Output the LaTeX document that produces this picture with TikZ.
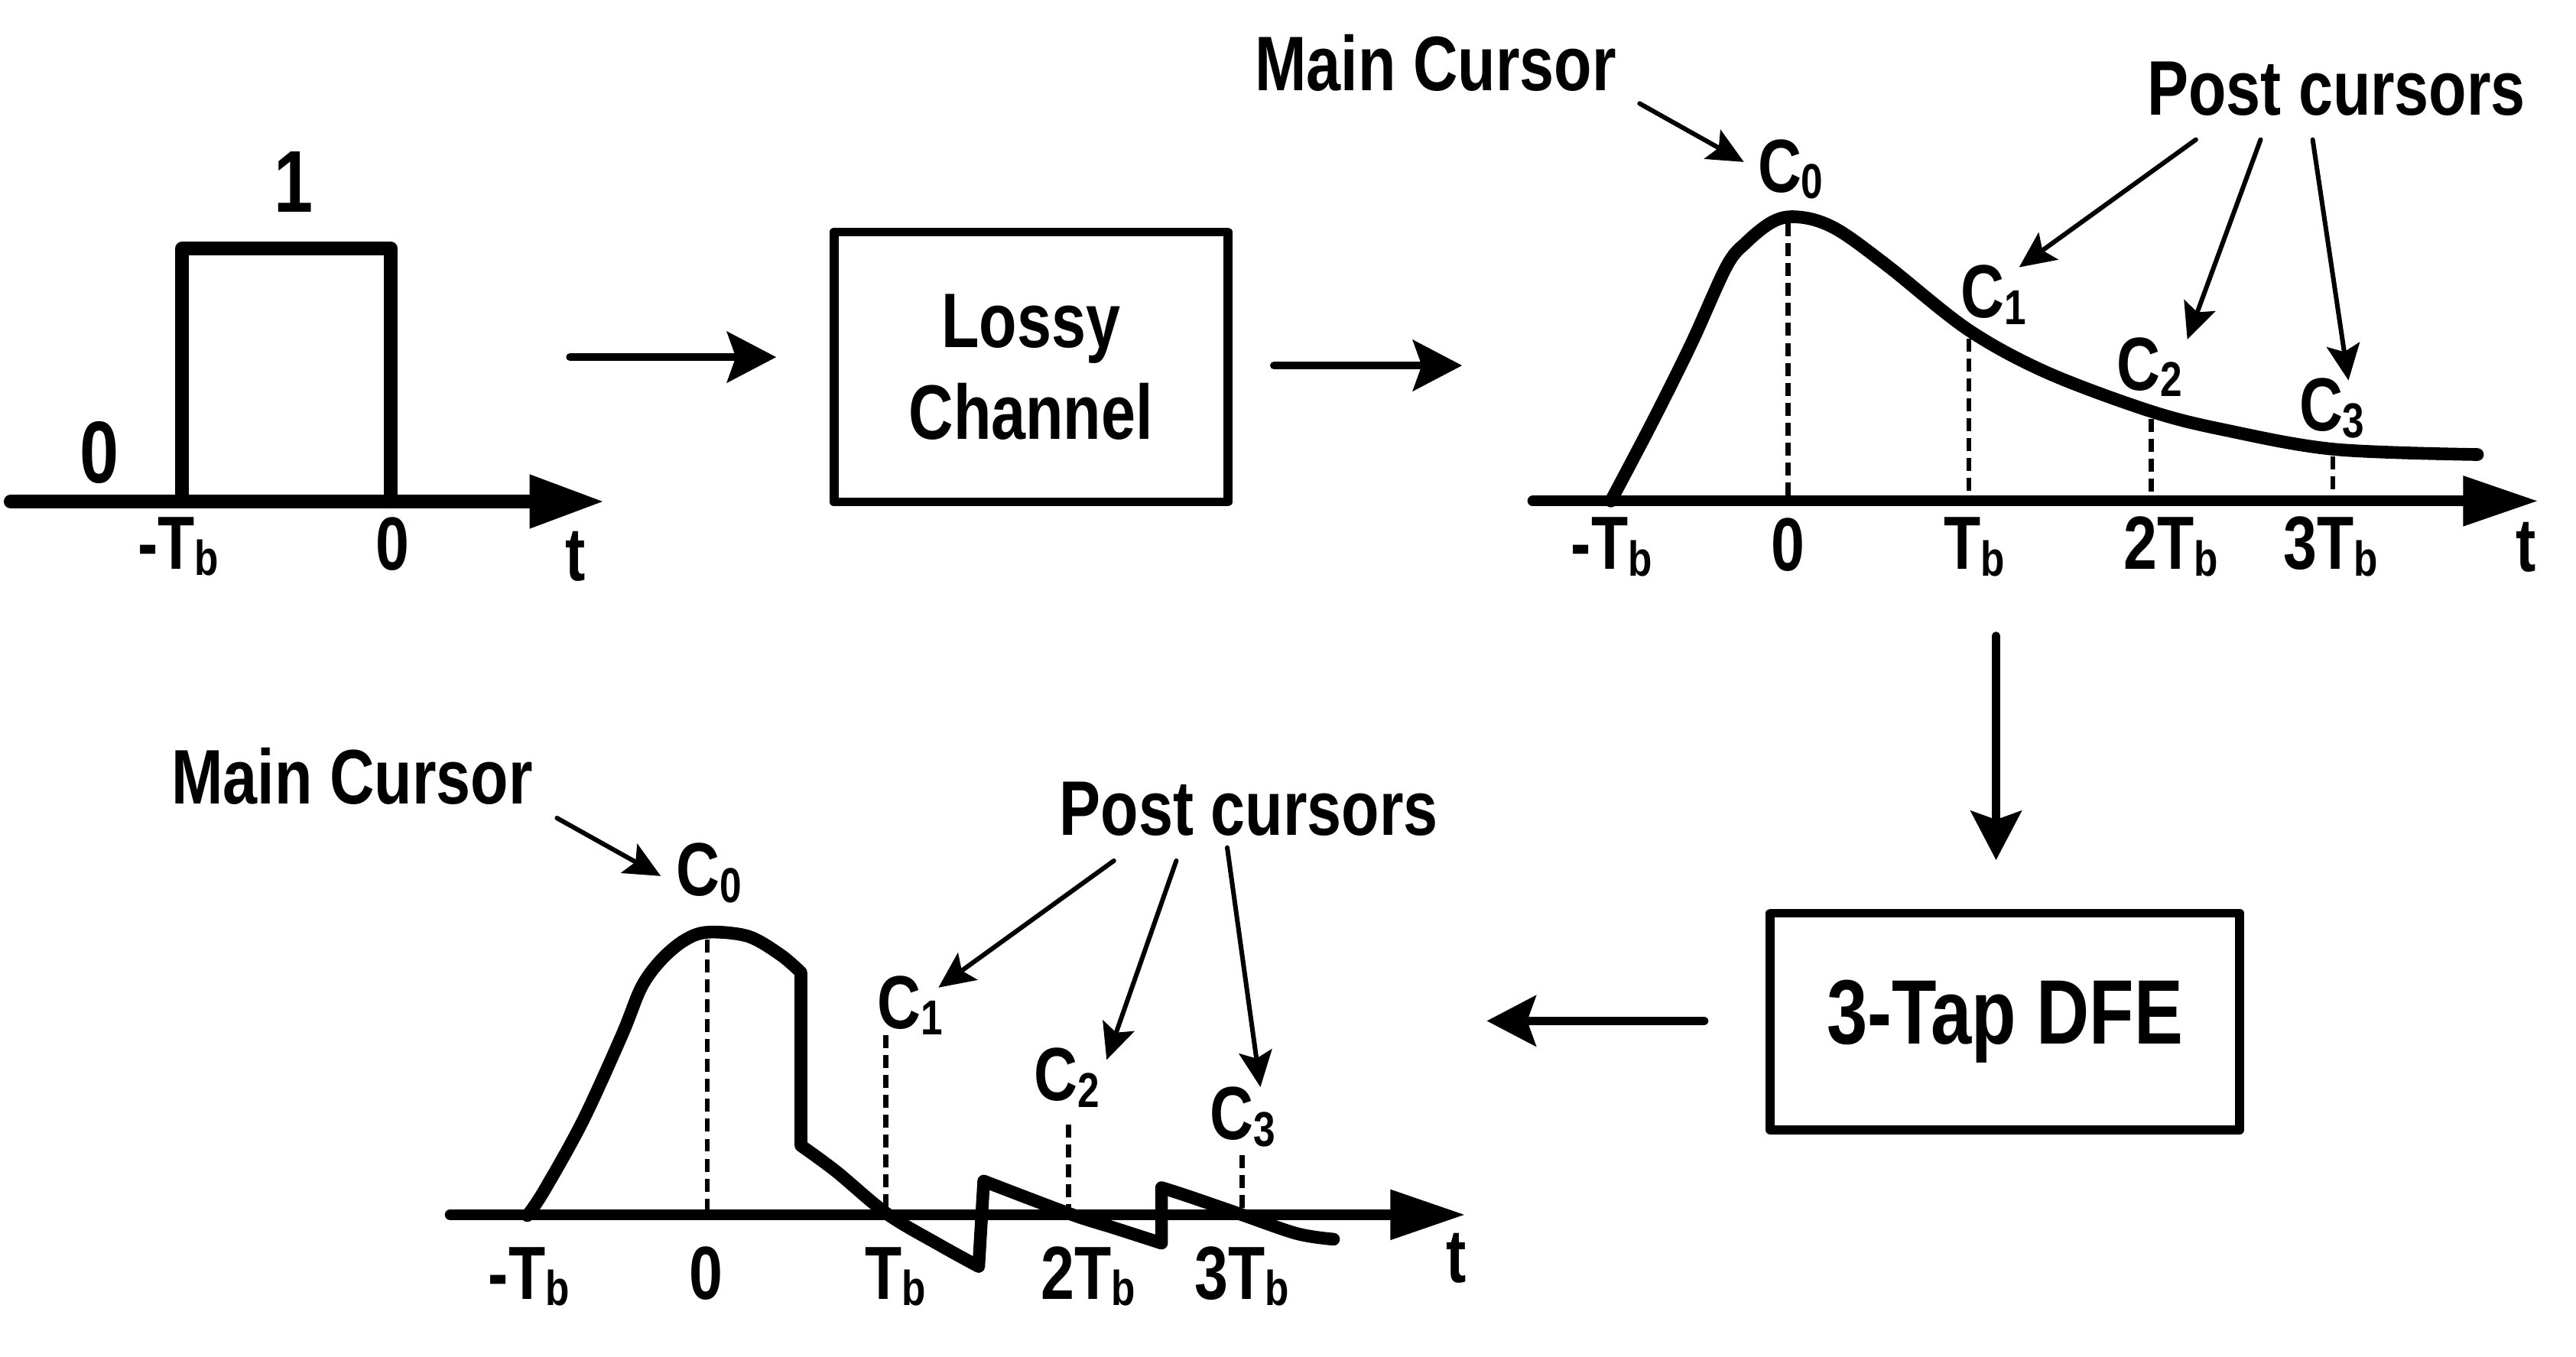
\documentclass[tikz,border=0pt]{standalone}
\usepackage{fontspec}
\setmainfont{Liberation Sans}[FakeStretch=0.8]
\usetikzlibrary{arrows.meta}
\newcommand\fsBig{\fontsize{26.8pt}{31.8pt}\selectfont\bfseries}
\newcommand\fsAx{\fontsize{26.1pt}{30pt}\selectfont\bfseries}
\newcommand\fsVal{\fontsize{30.4pt}{34pt}\selectfont\bfseries}
\newcommand\fsDfe{\fontsize{31.7pt}{36pt}\selectfont\bfseries}
\newcommand\lsub[1]{\raisebox{-2.2pt}{\fontsize{17pt}{17pt}\selectfont\bfseries #1}}
\begin{document}
\begin{tikzpicture}[x=0.02cm,y=-0.02cm,
  every node/.style={inner sep=0pt,outer sep=0pt},
  pulseln/.style={line width=4.8pt,line cap=round,line join=round},
  pulseaxis/.style={line width=4.8pt,line cap=round,-{Triangle[length=26pt,width=17.4pt]}},
  axisln/.style={line width=3.7pt,line cap=round,-{Triangle[length=26pt,width=16.5pt]}},
  curveln/.style={line width=4.4pt,line cap=round,line join=round},
  dashln/.style={line width=1.8pt,dash pattern=on 4.5pt off 2.4pt},
  flow/.style={line width=2.8pt,line cap=round,-{Stealth[length=17pt,width=17.5pt,inset=3pt]}},
  note/.style={line width=1.6pt,line cap=round,-{Stealth[length=12.5pt,width=11.5pt,inset=2.5pt]}},
  blockbox/.style={draw,line width=3.1pt,line join=round,align=center},
  axlab/.style={font=\fsAx,anchor=base},
  clab/.style={font=\fsAx,anchor=base west},
  biglab/.style={font=\fsBig,anchor=base west},
  vallab/.style={font=\fsVal,anchor=base}]
\fill[white] (0,0) rectangle (1568,826);
\useasboundingbox (0,0) rectangle (1568,826);

% ---------- input pulse ----------
\coordinate (pa0) at (6.5,305.3);
\coordinate (pa1) at (368,305.3);
\draw[pulseaxis] (pa0) -- (pa1);
\coordinate (pl) at (110.9,305.3);
\coordinate (plt) at (110.9,151.4);
\coordinate (prt) at (238,151.4);
\coordinate (pr) at (238,305.3);
\draw[pulseln] (pl) -- (plt) -- (prt) -- (pr);
\node[vallab] (v1) at (178.5,129) {1};
\node[vallab] (v0) at (60.5,294) {0};
\node[axlab] (pmtb) at (108.6,346.5) {-T\lsub{b}};
\node[axlab] (pzero) at (239,347) {0};
\node[axlab] (pt) at (350.5,353.7) {t};

% ---------- blocks ----------
\node[blockbox,font=\fsBig,minimum width=4.796cm,minimum height=3.288cm] (chan) at (627.5,223.4) {Lossy\\Channel};
\node[blockbox,font=\fsDfe,minimum width=5.714cm,minimum height=2.64cm] (dfe) at (1220.4,621.9) {3-Tap DFE};

% ---------- flow arrows ----------
\coordinate (f1a) at (347,217.4);
\coordinate (f1b) at (472.5,217.4);
\coordinate (f2a) at (775.5,222.5);
\coordinate (f2b) at (890,222.5);
\coordinate (f3a) at (1215,387);
\coordinate (f3b) at (1215,523.6);
\coordinate (f4a) at (1037.5,621.5);
\coordinate (f4b) at (905,621.5);
\draw[flow] (f1a) -- (f1b);
\draw[flow] (f2a) -- (f2b);
\draw[flow] (f3a) -- (f3b);
\draw[flow] (f4a) -- (f4b);

% ---------- channel output ----------
\coordinate (ra0) at (933,305);
\coordinate (ra1) at (1545,305);
\draw[axisln] (ra0) -- (ra1);
\draw[curveln] plot[smooth,tension=0.55] coordinates {
 (980.5,305) (1006,256.5) (1029.6,209) (1051,162) (1063,147.5) (1077.2,136)
 (1089,132) (1105,134) (1122,142) (1150.4,163) (1198.4,201) (1246.4,227)
 (1309.6,250.5) (1355.4,262) (1420.8,273.5) (1508,276.7)};
\coordinate (rd0t) at (1088.4,136);  \coordinate (rd0b) at (1088.4,305);
\coordinate (rd1t) at (1198.4,206);  \coordinate (rd1b) at (1198.4,305);
\coordinate (rd2t) at (1309.6,255);  \coordinate (rd2b) at (1309.6,305);
\coordinate (rd3t) at (1420,278);    \coordinate (rd3b) at (1420,305);
\draw[dashln] (rd0t) -- (rd0b);
\draw[dashln] (rd1t) -- (rd1b);
\draw[dashln] (rd2t) -- (rd2b);
\draw[dashln] (rd3t) -- (rd3b);
\node[axlab] (rmtb) at (981,346.7) {-T\lsub{b}};
\node[axlab] (rz) at (1088.4,347.5) {0};
\node[axlab] (rtb) at (1201.7,346.7) {T\lsub{b}};
\node[axlab] (r2tb) at (1321.5,346.7) {2T\lsub{b}};
\node[axlab] (r3tb) at (1418.7,346.7) {3T\lsub{b}};
\node[axlab] (rt) at (1537.5,348) {t};
\node[clab] (rc0) at (1070,117) {C\lsub{0}};
\node[clab] (rc1) at (1193.5,193.6) {C\lsub{1}};
\node[clab] (rc2) at (1288.5,237.5) {C\lsub{2}};
\node[clab] (rc3) at (1399.5,262.4) {C\lsub{3}};
\node[biglab] (rmain) at (764,55.1) {Main Cursor};
\node[biglab] (rpost) at (1307,70) {Post cursors};
\coordinate (rm0) at (998,63);    \coordinate (rm1) at (1061.5,98.6);
\coordinate (rp1a) at (1336.6,85); \coordinate (rp1b) at (1229,162.7);
\coordinate (rp2a) at (1376,85);   \coordinate (rp2b) at (1331.4,206.6);
\coordinate (rp3a) at (1407.7,85); \coordinate (rp3b) at (1429.5,231.6);
\draw[note] (rm0) -- (rm1);
\draw[note] (rp1a) -- (rp1b);
\draw[note] (rp2a) -- (rp2b);
\draw[note] (rp3a) -- (rp3b);

% ---------- DFE output ----------
\coordinate (ba0) at (274,739.5);
\coordinate (ba1) at (892,739.5);
\draw[axisln] (ba0) -- (ba1);
\draw[curveln] plot[smooth,tension=0.55] coordinates {
 (321,740) (331,725.2) (354.7,682.5) (378.5,630.3) (390.4,601) (402.3,584.5)
 (416.5,572.5) (430.8,567.5) (455.4,570) (475.4,581.5) (487.5,592)}
 -- plot[smooth,tension=0.55] coordinates {
 (487.5,697.4) (508.8,713) (540,739) (571.2,757.5) (595.7,771)}
 -- plot[smooth,tension=0.55] coordinates {
 (598.8,719) (651.4,739) (678.1,747.5) (707,756.8)}
 -- plot[smooth,tension=0.55] coordinates {
 (707,723) (722.6,728) (756,739.5) (789.5,751) (811.7,754.4)};
\coordinate (bd0t) at (430.5,572);  \coordinate (bd0b) at (430.5,739.5);
\coordinate (bd1t) at (539.1,630);  \coordinate (bd1b) at (539.1,739.5);
\coordinate (bd2t) at (650.5,684.4); \coordinate (bd2b) at (650.5,739.5);
\coordinate (bd3t) at (756,703.4);  \coordinate (bd3b) at (756,739.5);
\draw[dashln] (bd0t) -- (bd0b);
\draw[dashln] (bd1t) -- (bd1b);
\draw[dashln] (bd2t) -- (bd2b);
\draw[dashln] (bd3t) -- (bd3b);
\node[axlab] (bmtb) at (322,791) {-T\lsub{b}};
\node[axlab] (bz) at (430,791) {0};
\node[axlab] (btb) at (545,791) {T\lsub{b}};
\node[axlab] (b2tb) at (662.5,791) {2T\lsub{b}};
\node[axlab] (b3tb) at (756,791) {3T\lsub{b}};
\node[axlab] (bt) at (886.4,780.5) {t};
\node[clab] (bc0) at (411.5,545.4) {C\lsub{0}};
\node[clab] (bc1) at (534,626.2) {C\lsub{1}};
\node[clab] (bc2) at (629.5,670.1) {C\lsub{2}};
\node[clab] (bc3) at (736.5,693.9) {C\lsub{3}};
\node[biglab] (bmain) at (104.5,489.4) {Main Cursor};
\node[biglab] (bpost) at (645,508.6) {Post cursors};
\coordinate (bm0) at (339,498);    \coordinate (bm1) at (402.2,533.3);
\coordinate (bp1a) at (678,524);   \coordinate (bp1b) at (571.2,601.2);
\coordinate (bp2a) at (716,524);   \coordinate (bp2b) at (673.6,645.2);
\coordinate (bp3a) at (747,516);   \coordinate (bp3b) at (767.2,661.8);
\draw[note] (bm0) -- (bm1);
\draw[note] (bp1a) -- (bp1b);
\draw[note] (bp2a) -- (bp2b);
\draw[note] (bp3a) -- (bp3b);
\end{tikzpicture}
\end{document}
